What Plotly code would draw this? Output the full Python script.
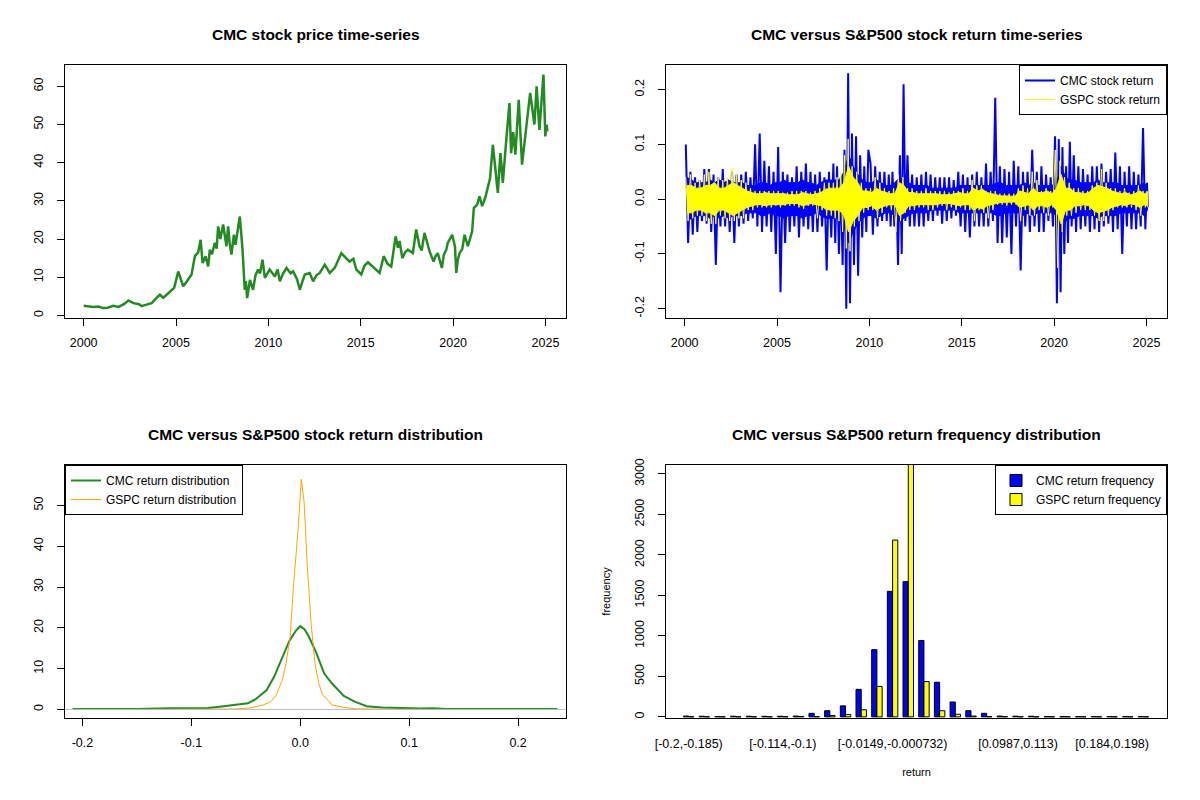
import plotly.graph_objects as go

# ---------------- data ----------------
# CMC closing price (decimal year, price)
price_t = [2000.0, 2000.3, 2000.52, 2000.8, 2001.06, 2001.3, 2001.6, 2001.9, 2002.2, 2002.42,
           2002.7, 2003.0, 2003.14, 2003.4, 2003.68, 2004.04, 2004.13, 2004.31, 2004.67, 2004.9,
           2005.12, 2005.39, 2005.6, 2005.84, 2006.02, 2006.2, 2006.33, 2006.44, 2006.6, 2006.74,
           2006.83, 2006.95, 2007.1, 2007.2, 2007.28, 2007.4, 2007.55, 2007.65, 2007.73, 2007.82,
           2007.9, 2008.0, 2008.13, 2008.22, 2008.31, 2008.45, 2008.52, 2008.6, 2008.72, 2008.78,
           2008.85, 2009.0, 2009.17, 2009.3, 2009.44, 2009.55, 2009.68, 2009.81, 2010.07, 2010.2,
           2010.35, 2010.5, 2010.62, 2010.8, 2010.98, 2011.2, 2011.34, 2011.55, 2011.7, 2011.85,
           2011.97, 2012.24, 2012.42, 2012.6, 2012.78, 2013.05, 2013.32, 2013.6, 2013.95, 2014.2,
           2014.4, 2014.6, 2014.76, 2015.03, 2015.2, 2015.39, 2015.7, 2016.02, 2016.24, 2016.45,
           2016.65, 2016.89, 2017.01, 2017.1, 2017.25, 2017.4, 2017.55, 2017.82, 2018.0, 2018.1,
           2018.18, 2018.3, 2018.45, 2018.6, 2018.72, 2018.94, 2019.05, 2019.17, 2019.39, 2019.5,
           2019.63, 2019.71, 2019.95, 2020.1, 2020.17, 2020.25, 2020.35, 2020.5, 2020.62, 2020.8,
           2021.03, 2021.12, 2021.3, 2021.43, 2021.57, 2021.75, 2021.88, 2022.0, 2022.15, 2022.29,
           2022.42, 2022.56, 2022.69, 2022.87, 2023.05, 2023.14, 2023.25, 2023.37, 2023.55, 2023.73,
           2023.85, 2023.98, 2024.17, 2024.4, 2024.52, 2024.67, 2024.89, 2024.99, 2025.06, 2025.1]
cmc_price = [2.5, 2.3, 2.2, 2.3, 1.9, 2.0, 2.5, 2.2, 3.0, 3.9,
             3.2, 2.9, 2.4, 2.8, 3.2, 5.0, 5.4, 4.6, 6.3, 7.2,
             11.5, 7.6, 9.0, 10.7, 15.5, 16.5, 19.8, 13.7, 15.5, 12.8,
             17.2, 16.0, 19.0, 17.5, 23.3, 20.0, 23.8, 20.5, 18.1, 23.3,
             19.0, 15.9, 21.1, 18.5, 21.6, 25.9, 22.0, 17.2, 6.7, 9.0,
             4.5, 9.3, 6.7, 10.5, 12.0, 11.0, 14.6, 9.8, 12.0, 11.0,
             10.2, 12.0, 8.9, 11.0, 12.4, 11.0, 11.5, 9.5, 6.7, 9.0,
             10.7, 11.1, 8.9, 10.5, 11.1, 13.3, 11.1, 12.5, 16.3, 15.0,
             14.1, 14.8, 12.0, 10.7, 13.0, 13.9, 12.5, 11.1, 15.5, 13.5,
             12.8, 20.7, 17.7, 19.5, 15.0, 16.5, 17.2, 16.3, 22.5, 19.5,
             18.1, 17.0, 21.6, 19.0, 16.8, 14.1, 15.5, 16.3, 12.4, 15.9,
             17.2, 19.0, 21.1, 18.0, 11.1, 14.5, 16.3, 17.5, 21.1, 18.1,
             22.0, 28.1, 29.0, 31.2, 28.6, 31.0, 33.4, 36.0, 44.7, 37.7,
             32.1, 42.5, 34.7, 45.6, 55.6, 42.5, 48.0, 42.1, 56.5, 39.5,
             45.0, 50.4, 58.3, 50.0, 60.0, 48.6, 63.1, 46.9, 50.0, 48.2]

# daily returns, local extremes per year
years = list(range(2000, 2026))
year_span = [1.0] * 25 + [0.1]  # data stops early in 2025

cmc_ret_counts = [8, 8, 8, 8, 8, 8, 8, 8, 10, 9, 8, 10, 8, 8, 8, 8, 8, 8, 8, 8, 10, 8, 8, 8, 8, 2]
cmc_ret = [
    0.10, -0.08, 0.05, -0.065, 0.04, -0.06, 0.035, -0.04,
    0.055, -0.045, 0.055, -0.06, 0.045, -0.12, 0.04, -0.05,
    0.055, -0.05, 0.03, -0.06, 0.05, -0.08, 0.045, -0.05,
    0.045, -0.045, 0.05, -0.04, 0.04, -0.035, 0.10, -0.05,
    0.12, -0.06, 0.07, -0.05, 0.06, -0.06, 0.05, -0.10,
    0.095, -0.17, 0.05, -0.08, 0.045, -0.06, 0.04, -0.05,
    0.06, -0.07, 0.05, -0.05, 0.065, -0.055, 0.05, -0.06,
    0.045, -0.06, 0.05, -0.05, 0.04, -0.13, 0.05, -0.07,
    0.065, -0.08, 0.06, -0.10, 0.04, -0.12, 0.09, -0.20, 0.23, -0.19,
    0.12, -0.12, 0.115, -0.14, 0.08, -0.07, 0.06, -0.06, 0.09,
    0.065, -0.065, 0.06, -0.05, 0.05, -0.04, 0.05, -0.04,
    0.045, -0.05, 0.05, -0.05, 0.03, -0.12, 0.08, -0.10, 0.21, -0.04,
    0.08, -0.05, 0.045, -0.05, 0.04, -0.05, 0.045, -0.05,
    0.05, -0.04, 0.045, -0.04, 0.04, -0.03, 0.04, -0.045,
    0.04, -0.04, 0.04, -0.035, 0.035, -0.03, 0.05, -0.05,
    0.045, -0.06, 0.04, -0.07, 0.045, -0.05, 0.05, -0.05,
    0.04, -0.05, 0.065, -0.05, 0.05, -0.04, 0.185, -0.08,
    0.06, -0.08, 0.055, -0.07, 0.05, -0.10, 0.07, -0.05,
    0.06, -0.13, 0.05, -0.05, 0.05, -0.06, 0.09, -0.05,
    0.05, -0.06, 0.06, -0.06, 0.045, -0.04, 0.04, -0.05,
    0.115, -0.19, 0.11, -0.17, 0.095, -0.10, 0.06, -0.08, 0.105, -0.05,
    0.08, -0.06, 0.06, -0.055, 0.055, -0.05, 0.045, -0.06,
    0.06, -0.055, 0.06, -0.06, 0.065, -0.05, 0.05, -0.045,
    0.055, -0.06, 0.085, -0.055, 0.06, -0.10, 0.05, -0.05,
    0.06, -0.055, 0.05, -0.055, 0.045, -0.05, 0.13, -0.055,
    0.03, -0.015,
]

gspc_ret_counts = [8] * 8 + [10] + [8] * 16 + [2]
gspc_ret = [
    0.04, -0.04, 0.045, -0.035, 0.03, -0.03, 0.035, -0.03,
    0.045, -0.04, 0.05, -0.045, 0.03, -0.045, 0.04, -0.03,
    0.035, -0.035, 0.04, -0.04, 0.057, -0.04, 0.045, -0.035,
    0.035, -0.035, 0.03, -0.02, 0.02, -0.02, 0.015, -0.015,
    0.015, -0.015, 0.015, -0.015, 0.015, -0.015, 0.015, -0.012,
    0.015, -0.015, 0.012, -0.012, 0.012, -0.012, 0.015, -0.012,
    0.015, -0.015, 0.015, -0.018, 0.015, -0.012, 0.012, -0.012,
    0.015, -0.035, 0.02, -0.02, 0.03, -0.03, 0.03, -0.03,
    0.03, -0.035, 0.04, -0.04, 0.05, -0.06, 0.08, -0.09, 0.11, -0.095,
    0.06, -0.05, 0.05, -0.04, 0.03, -0.025, 0.02, -0.02,
    0.02, -0.02, 0.04, -0.035, 0.03, -0.025, 0.02, -0.015,
    0.015, -0.02, 0.02, -0.06, 0.045, -0.04, 0.04, -0.025,
    0.02, -0.02, 0.02, -0.02, 0.015, -0.015, 0.015, -0.015,
    0.02, -0.02, 0.015, -0.02, 0.015, -0.015, 0.015, -0.012,
    0.015, -0.02, 0.012, -0.015, 0.015, -0.02, 0.015, -0.015,
    0.02, -0.02, 0.015, -0.02, 0.035, -0.04, 0.025, -0.02,
    0.025, -0.025, 0.015, -0.035, 0.015, -0.02, 0.015, -0.01,
    0.01, -0.01, 0.01, -0.012, 0.01, -0.01, 0.01, -0.01,
    0.02, -0.04, 0.025, -0.02, 0.02, -0.03, 0.05, -0.03,
    0.035, -0.02, 0.015, -0.025, 0.02, -0.03, 0.015, -0.015,
    0.09, -0.125, 0.07, -0.06, 0.04, -0.03, 0.03, -0.03,
    0.02, -0.025, 0.02, -0.02, 0.015, -0.02, 0.015, -0.02,
    0.025, -0.03, 0.03, -0.04, 0.055, -0.04, 0.03, -0.03,
    0.02, -0.02, 0.02, -0.015, 0.015, -0.015, 0.02, -0.015,
    0.012, -0.015, 0.015, -0.02, 0.025, -0.03, 0.015, -0.015,
    0.015, -0.015,
]

# half-width of the solid core of each return band, per quarter
core_counts = [4] * 25 + [1]
cmc_core = [
    0.04, 0.035, 0.03, 0.03,  0.03, 0.035, 0.03, 0.035,  0.03, 0.035, 0.03, 0.03,
    0.03, 0.025, 0.025, 0.025,  0.03, 0.03, 0.025, 0.03,  0.03, 0.035, 0.03, 0.03,
    0.03, 0.035, 0.03, 0.03,  0.025, 0.03, 0.035, 0.035,  0.035, 0.035, 0.05, 0.08,
    0.06, 0.045, 0.035, 0.03,  0.03, 0.035, 0.03, 0.025,  0.025, 0.03, 0.04, 0.035,
    0.03, 0.025, 0.025, 0.025,  0.025, 0.02, 0.02, 0.02,  0.02, 0.02, 0.02, 0.025,
    0.025, 0.025, 0.025, 0.025,  0.025, 0.025, 0.025, 0.03,  0.03, 0.025, 0.025, 0.025,
    0.025, 0.03, 0.025, 0.03,  0.025, 0.025, 0.025, 0.025,  0.03, 0.06, 0.04, 0.035,
    0.035, 0.03, 0.03, 0.03,  0.03, 0.035, 0.03, 0.03,  0.03, 0.03, 0.025, 0.025,
    0.025, 0.025, 0.025, 0.03,  0.02,
]
gspc_core = [
    0.025, 0.025, 0.02, 0.02,  0.025, 0.025, 0.03, 0.02,  0.02, 0.025, 0.03, 0.025,
    0.02, 0.015, 0.012, 0.01,  0.01, 0.012, 0.01, 0.01,  0.01, 0.01, 0.008, 0.008,
    0.008, 0.012, 0.01, 0.008,  0.01, 0.012, 0.018, 0.02,  0.02, 0.02, 0.03, 0.06,
    0.04, 0.03, 0.015, 0.015,  0.012, 0.02, 0.015, 0.012,  0.01, 0.01, 0.03, 0.025,
    0.012, 0.012, 0.01, 0.01,  0.01, 0.01, 0.01, 0.008,  0.008, 0.008, 0.01, 0.012,
    0.01, 0.01, 0.02, 0.015,  0.018, 0.012, 0.01, 0.008,  0.006, 0.006, 0.005, 0.005,
    0.015, 0.012, 0.01, 0.02,  0.012, 0.012, 0.015, 0.01,  0.02, 0.045, 0.02, 0.02,
    0.012, 0.012, 0.01, 0.012,  0.02, 0.025, 0.022, 0.02,  0.015, 0.012, 0.01, 0.012,
    0.008, 0.01, 0.015, 0.01,  0.012,
]

# kernel density estimates
cmc_dens_x = [-0.209, -0.15, -0.12, -0.10, -0.085, -0.076, -0.065, -0.055, -0.048, -0.041,
              -0.035, -0.031, -0.024, -0.017, -0.010, -0.004, 0.0, 0.004, 0.008, 0.015,
              0.019, 0.022, 0.029, 0.035, 0.040, 0.050, 0.061, 0.075, 0.093, 0.110,
              0.121, 0.135, 0.236]
cmc_dens_y = [0.1, 0.1, 0.3, 0.3, 0.35, 0.6, 0.9, 1.2, 1.5, 2.5,
              3.8, 4.7, 8.0, 12.5, 16.8, 19.3, 20.4, 19.6, 17.8, 13.7,
              11.0, 8.8, 6.4, 4.6, 3.3, 1.9, 0.8, 0.5, 0.3, 0.2,
              0.3, 0.1, 0.1]
gspc_dens_x = [-0.135, -0.10, -0.06, -0.045, -0.034, -0.027, -0.022, -0.0165, -0.013, -0.0093,
               -0.006, -0.0023, 0.001, 0.0035, 0.0065, 0.010, 0.0135, 0.017, 0.0205, 0.024,
               0.029, 0.040, 0.050, 0.080, 0.120]
gspc_dens_y = [0.0, 0.05, 0.1, 0.4, 1.1, 1.9, 3.5, 7.2, 11.3, 17.8,
               31.0, 43.0, 56.4, 51.0, 35.0, 21.0, 11.3, 6.4, 3.5, 2.7,
               1.1, 0.5, 0.15, 0.05, 0.0]

# return frequency table, 30 bins
bin_index = list(range(1, 31))
cmc_freq = [10, 8, 3, 8, 8, 7, 8, 10, 44, 76, 136, 340, 830, 1550, 1670,
            944, 428, 184, 76, 44, 10, 9, 8, 3, 3, 3, 3, 3, 3, 3]
gspc_freq = [1, 1, 1, 1, 1, 1, 2, 5, 3, 16, 30, 88, 376, 2184, 3300,
             436, 76, 32, 10, 3, 2, 2, 1, 1, 1, 1, 1, 1, 1, 1]
shown_bins = [1, 7, 14, 22, 28]
shown_labels = ["[-0.2,-0.185)", "[-0.114,-0.1)", "[-0.0149,-0.000732)",
                "[0.0987,0.113)", "[0.184,0.198)"]


def spread_in_years(counts):
    t = []
    for yr, n, span in zip(years, counts, year_span):
        t += [yr + span * (i + 0.5) / n for i in range(n)]
    return t


cmc_ret_t = spread_in_years(cmc_ret_counts)
gspc_ret_t = spread_in_years(gspc_ret_counts)
core_t = spread_in_years(core_counts)


def band(core):
    xs = core_t + core_t[::-1]
    ys = list(core) + [-c for c in core[::-1]]
    return xs, ys


FONT = "Liberation Sans, Arial, sans-serif"
# page body has an 8px margin, so the figure is drawn 8px in from the window edge
OFF = 8
W, H = 1200 - 2 * OFF, 800 - 2 * OFF


def px_x(v):
    return (v - OFF) / W


def px_y(v):
    return 1 - (v - OFF) / H


left_dom = [px_x(65), px_x(566)]
right_dom = [px_x(666), px_x(1167)]
top_dom = [px_y(318), px_y(65)]
bot_dom = [px_y(718), px_y(465)]

fig = go.Figure()

# panel 1: price
fig.add_trace(go.Scatter(x=price_t, y=cmc_price, mode="lines", showlegend=False,
                         line=dict(color="#228B22", width=2.5), xaxis="x", yaxis="y"))

# panel 2: returns
bx, by = band(cmc_core)
fig.add_trace(go.Scatter(x=bx, y=by, fill="toself", fillcolor="#0000FF", mode="lines",
                         line=dict(color="#0000FF", width=1), showlegend=False,
                         hoverinfo="skip", xaxis="x2", yaxis="y2"))
fig.add_trace(go.Scatter(x=cmc_ret_t, y=cmc_ret, mode="lines", name="CMC stock return",
                         line=dict(color="#0000FF", width=2), xaxis="x2", yaxis="y2",
                         legend="legend"))
bx, by = band(gspc_core)
fig.add_trace(go.Scatter(x=bx, y=by, fill="toself", fillcolor="#FFFF00", mode="lines",
                         line=dict(color="#FFFF00", width=1), showlegend=False,
                         hoverinfo="skip", xaxis="x2", yaxis="y2"))
fig.add_trace(go.Scatter(x=gspc_ret_t, y=gspc_ret, mode="lines", name="GSPC stock return",
                         line=dict(color="#FFFF00", width=1), xaxis="x2", yaxis="y2",
                         legend="legend"))

# panel 3: densities
fig.add_trace(go.Scatter(x=cmc_dens_x, y=cmc_dens_y, mode="lines", name="CMC return distribution",
                         line=dict(color="#228B22", width=2), xaxis="x3", yaxis="y3",
                         legend="legend2"))
fig.add_trace(go.Scatter(x=gspc_dens_x, y=gspc_dens_y, mode="lines", name="GSPC return distribution",
                         line=dict(color="#FFA500", width=1), xaxis="x3", yaxis="y3",
                         legend="legend2"))

# panel 4: frequencies
fig.add_trace(go.Bar(x=bin_index, y=cmc_freq, name="CMC return frequency",
                     marker=dict(color="#0000FF", line=dict(color="black", width=1)),
                     xaxis="x4", yaxis="y4", legend="legend3"))
fig.add_trace(go.Bar(x=bin_index, y=gspc_freq, name="GSPC return frequency",
                     marker=dict(color="#FFFF00", line=dict(color="black", width=1)),
                     xaxis="x4", yaxis="y4", legend="legend3"))

tickfont = dict(family=FONT, size=12.5, color="black")
ax_common = dict(showline=True, mirror=True, linecolor="black", linewidth=1,
                 ticks="outside", ticklen=7, tickcolor="black", showgrid=False,
                 zeroline=False, automargin=False, tickfont=tickfont)
x_common = dict(ax_common, ticklabelstandoff=6)
y_common = dict(ax_common, ticklabelstandoff=9, tickangle=-90)
year_ticks = dict(tickvals=[2000, 2005, 2010, 2015, 2020, 2025])
ret_ticks = dict(tickvals=[-0.2, -0.1, 0.0, 0.1, 0.2], ticktext=["-0.2", "-0.1", "0.0", "0.1", "0.2"])
legend_style = dict(bordercolor="black", borderwidth=1, bgcolor="white",
                    font=dict(family=FONT, size=12), tracegroupgap=0)

fig.update_layout(
    width=W, height=H, margin=dict(l=0, r=0, t=0, b=0),
    paper_bgcolor="white", plot_bgcolor="white",
    font=dict(family=FONT, size=12, color="black"),
    barmode="group", bargap=1 / 3, bargroupgap=0,
    xaxis=dict(domain=left_dom, anchor="y", range=[1998.99, 2026.11], **year_ticks, **x_common),
    yaxis=dict(domain=top_dom, anchor="x", range=[-0.7, 65.6], tickvals=[0, 10, 20, 30, 40, 50, 60],
               **y_common),
    xaxis2=dict(domain=right_dom, anchor="y2", range=[1998.99, 2026.11], **year_ticks, **x_common),
    yaxis2=dict(domain=top_dom, anchor="x2", range=[-0.217, 0.245], **ret_ticks, **y_common),
    xaxis3=dict(domain=left_dom, anchor="y3", range=[-0.216, 0.244], **ret_ticks, **x_common),
    yaxis3=dict(domain=bot_dom, anchor="x3", range=[-2.1, 59.9], tickvals=[0, 10, 20, 30, 40, 50],
                **y_common),
    xaxis4=dict(domain=right_dom, anchor="y4", range=[-0.45, 31.5],
                tickvals=shown_bins, ticktext=shown_labels,
                **dict(x_common, ticks="", ticklabelstandoff=14),
                title=dict(text="return", font=dict(family=FONT, size=11), standoff=18)),
    yaxis4=dict(domain=bot_dom, anchor="x4", range=[-14, 3111],
                tickvals=[0, 500, 1000, 1500, 2000, 2500, 3000],
                title=dict(text="frequency", font=dict(family=FONT, size=11), standoff=20),
                **y_common),
    legend=dict(x=px_x(1167), y=px_y(65), xanchor="right", yanchor="top",
                entrywidth=125, **legend_style),
    legend2=dict(x=px_x(65), y=px_y(465), xanchor="left", yanchor="top",
                 entrywidth=150, **legend_style),
    legend3=dict(x=px_x(1167), y=px_y(465), xanchor="right", yanchor="top",
                 entrywidth=135, **legend_style),
    shapes=[dict(type="line", xref="x3 domain", yref="y3", x0=0, x1=1, y0=0, y1=0,
                 line=dict(color="#BEBEBE", width=1), layer="above")],
)

titles = [
    ("CMC stock price time-series", left_dom, 35),
    ("CMC versus S&P500 stock return time-series", right_dom, 35),
    ("CMC versus S&P500 stock return distribution", left_dom, 435),
    ("CMC versus S&P500 return frequency distribution", right_dom, 435),
]
for text, dom, ypx in titles:
    fig.add_annotation(text="<b>%s</b>" % text, xref="paper", yref="paper",
                       x=(dom[0] + dom[1]) / 2, y=px_y(ypx), xanchor="center", yanchor="middle",
                       showarrow=False, font=dict(family=FONT, size=15.5, color="black"))

fig.write_html("out.html")
